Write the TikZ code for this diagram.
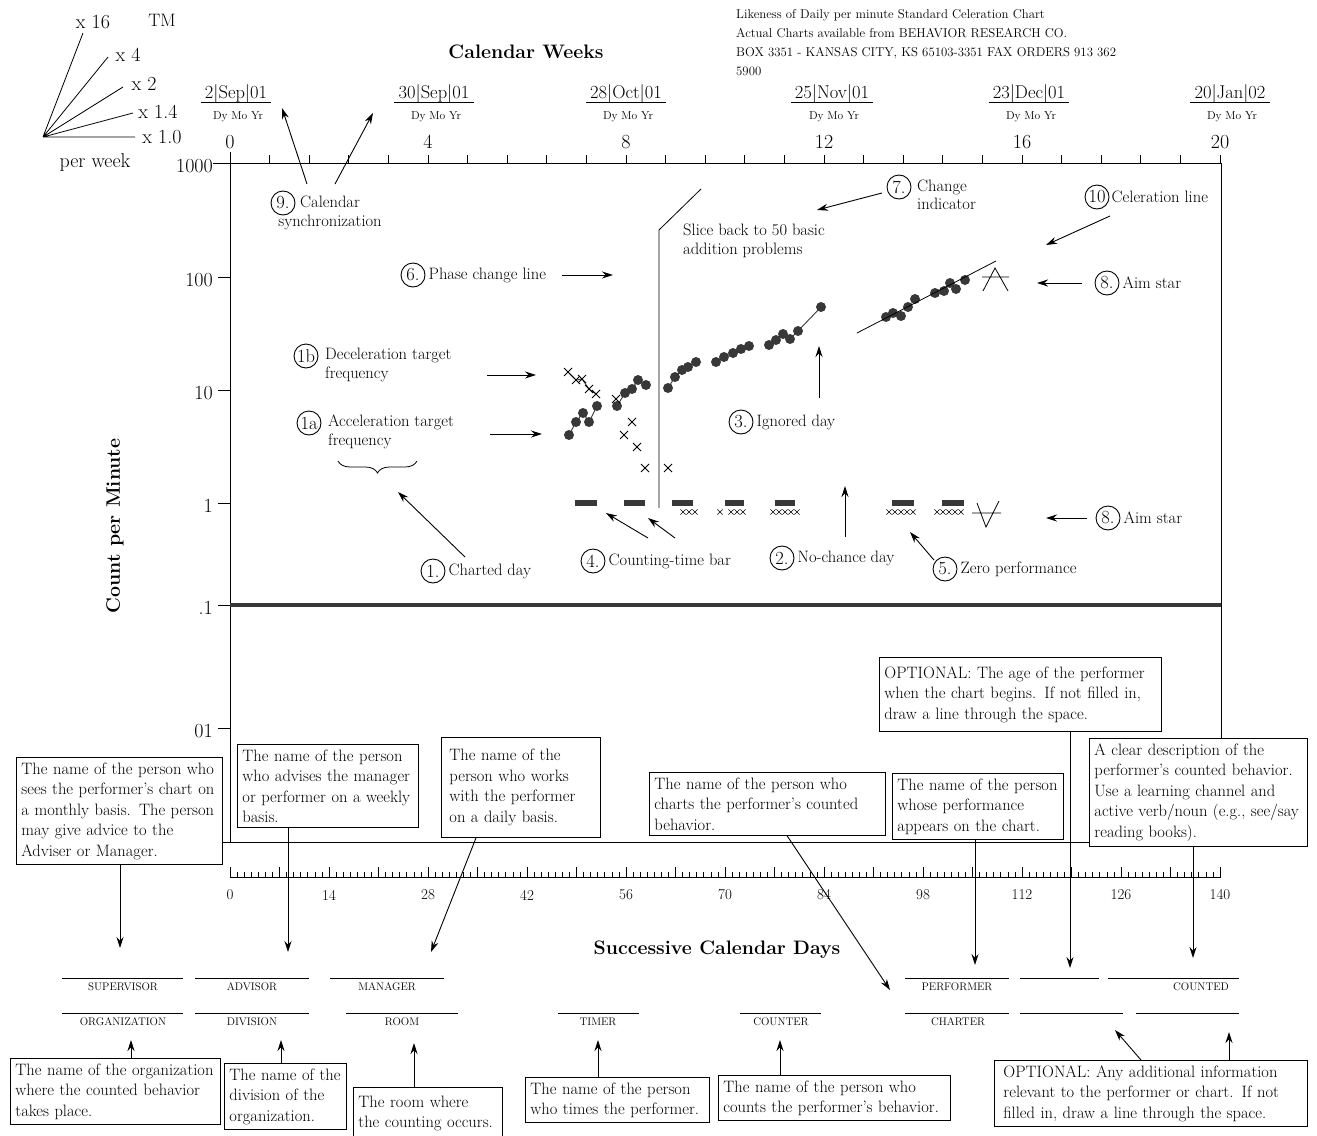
\documentclass[tikz,border=0pt]{standalone}
\usepackage{fontspec}
\usetikzlibrary{arrows.meta,calc,decorations.pathreplacing,positioning}
\definecolor{inkgray}{gray}{0.22}
\newcommand{\fsz}[2]{\fontsize{#1}{#2}\selectfont}
\tikzset{
  xm/.pic={\draw[line width=0.8pt] (-4,-4) -- (4,4) (-4,4) -- (4,-4);},
  sxm/.pic={\draw[line width=0.6pt] (-2.6,-2.6) -- (2.6,2.6) (-2.6,2.6) -- (2.6,-2.6);}
}

\begin{document}
\begin{tikzpicture}[x=1pt,y=-1pt,
    note/.style={font=\fsz{16.5}{18.5}, inner sep=0pt, align=left},
    num/.style={circle, draw, line width=0.9pt, inner sep=0pt, minimum size=24pt, font=\fsz{18.5}{18.5}},
    infobox/.style={draw, line width=0.9pt, fill=white, anchor=north west, align=left, inner xsep=5pt, inner ysep=5pt, font=\fsz{16.5}{20.5}},
    arr/.style={-{Stealth[length=11pt,width=7pt]}, line width=0.9pt},
    rule/.style={line width=0.8pt},
    slotlbl/.style={font=\fsz{11}{11}, inner sep=0pt},
    datelbl/.style={font=\fsz{18.5}{18.5}, inner sep=0pt, anchor=base},
    dmy/.style={font=\fsz{11.5}{11.5}, inner sep=0pt},
    axnum/.style={font=\fsz{20}{20}, inner sep=0pt},
    heading/.style={font=\fsz{19.5}{19.5}\bfseries, inner sep=0pt},
    trail/.style={line width=0.9pt, inkgray}]
  \useasboundingbox (0,0) rectangle (1317,1135);

  % celeration fan
  \coordinate (fan) at (43,137);
  \node[axnum] (f16) at (93,22) {x 16};
  \node[axnum, font=\fsz{18}{18}] (tm) at (162,20) {TM};
  \node[axnum] (f4) at (128,55) {x 4};
  \node[axnum] (f2) at (144,84) {x 2};
  \node[axnum] (f14) at (158,112) {x 1.4};
  \node[axnum] (f10) at (162,137) {x 1.0};
  \node[axnum] (pw) at (95,163) {per week};
  \draw[rule] (fan) -- (83,33) (fan) -- (108,57) (fan) -- (123,87) (fan) -- (133,113) (fan) -- (135,137);

  % calendar header
  \node[heading] (cw) at (526,52) {Calendar Weeks};
  \node[note, anchor=north west, font=\fsz{12.8}{19}] (hdr) at (736,9)
    {Likeness of Daily per minute Standard Celeration Chart\\
     Actual Charts available from BEHAVIOR RESEARCH CO.\\
     BOX 3351 - KANSAS CITY, KS 65103-3351 FAX ORDERS 913 362\\
     5900};
  \foreach \x/\t [count=\i] in {236/2|Sep|01,434/30|Sep|01,626/28|Oct|01,832/25|Nov|01,1029/23|Dec|01,1230/20|Jan|02}{
    \node[datelbl] (dt\i) at (\x,98) {\t};
    \draw[rule] ($(dt\i.base west)+(-4,4)$) -- ($(dt\i.base east)+(4,4)$);
    \node[dmy] (dm\i) at (\x+2,117) {Dy Mo Yr};
  }
  \foreach \w in {0,4,...,20}
    \node[axnum] (wk\w) at ({230+\w*49.5},142) {\w};

  % chart frame
  \draw[rule] (213,163) -- (1221,163);
  \foreach \k in {0,...,25}
    \draw[rule] ({230+\k*39.6},163) -- ++(0,-8);
  \draw[rule] (230,152) -- (230,842);
  \draw[rule] (1221,163) -- (1221,842);
  \draw[rule] (215,842) -- (1221,842);
  \draw[line width=4pt, inkgray] (230,605) -- (1221,605);
  \node[axnum, anchor=east] (yl0) at (213,166) {1000};
  \foreach \y/\t [count=\i] in {277/100,390/10,503/1,605/.1,728/01}{
    \draw[rule] (218,\y) -- (230,\y);
    \node[axnum, anchor=east] (yl\i) at (213,\y+3) {\t};
  }
  \node[heading, rotate=90] (ylab) at (115,526) {Count per Minute};

  % data
  \draw[rule] (659,508) -- (659,230) -- (701,189);
  \draw[trail] plot coordinates {(569,435) (576,422) (583,413) (589,422) (597,406)};
  \draw[trail] plot coordinates {(617,406) (625,393) (632,389) (638,380) (646,385)};
  \draw[trail] plot coordinates {(668,388) (675,377) (682,370) (688,367) (696,362)};
  \draw[trail] plot coordinates {(716,362) (724,357) (733,353) (741,349) (749,346)};
  \draw[trail] plot coordinates {(769,345) (776,340) (783,334) (790,339) (798,331) (821,307)};
  \draw[trail] plot coordinates {(568,372) (576,380) (582,379) (589,389) (596,394)};
  \foreach \x/\y in {569/435,576/422,583/413,589/422,597/406,617/406,625/393,632/389,638/380,646/385,
                     668/388,675/377,682/370,688/367,696/362,716/362,724/357,733/353,741/349,749/346,
                     769/345,776/340,783/334,790/339,798/331,821/307,
                     886/317,893/313,901/316,908/307,915/299,935/293,944/291,950/283,956/289,965/280}
    \fill[inkgray] (\x,\y) circle (5pt);
  \foreach \x/\y in {568/372,576/380,582/379,589/389,596/394,616/399,632/422,624/435,637/447,645/468,668/468}
    \pic at (\x,\y) {xm};
  \draw[rule] (857,333) -- (996,261);
  \draw[rule] (983,291) -- (995,268) -- (1008,291) (982,277) -- (1009,277);
  \draw[rule] (977,503) -- (986,527) -- (999,501) (972,513) -- (1001,513);
  \foreach \a/\b in {575/597,624/645,672/693,725/744,775/795,892/914,942/964}
    \fill[inkgray] (\a,500) rectangle (\b,506);
  \foreach \x in {683,689,695,720,731,737,743,773,779,785,791,797,889,895,901,907,913,937,943,949,955,961}
    \pic at (\x,512) {sxm};

  % numbered notes
  \node[num] (c9) at (283,203) {9.};
  \node[note, align=center] (t9) at (330,213) {Calendar\\synchronization};
  \coordinate (a9s) at (307,184); \coordinate (a9e) at (282,108);
  \coordinate (b9s) at (335,184); \coordinate (b9e) at (373,113);
  \draw[arr] (a9s) -- (a9e);
  \draw[arr] (b9s) -- (b9e);

  \node[num] (c6) at (413,275) {6.};
  \node[note, right=3pt of c6] (t6) {Phase change line};
  \coordinate (a6s) at (562,275); \coordinate (a6e) at (613,275);
  \draw[arr] (a6s) -- (a6e);

  \node[num] (c1b) at (306,356) {1b};
  \node[note, anchor=west] (t1b) at (325,365) {Deceleration target\\frequency};
  \coordinate (a1bs) at (487,375); \coordinate (a1be) at (536,375);
  \draw[arr] (a1bs) -- (a1be);

  \node[num] (c1a) at (309,423) {1a};
  \node[note, anchor=west] (t1a) at (328,432) {Acceleration target\\frequency};
  \coordinate (a1as) at (490,434); \coordinate (a1ae) at (542,434);
  \draw[arr] (a1as) -- (a1ae);
  \draw[rule, decorate, decoration={brace, amplitude=12pt}] (417,461) -- (338,461);

  \node[num] (c1) at (433,571) {1.};
  \node[note, right=3pt of c1] (t1) {Charted day};
  \coordinate (a1s) at (465,557); \coordinate (a1e) at (398,492);
  \draw[arr] (a1s) -- (a1e);

  \node[num] (c4) at (593,561) {4.};
  \node[note, right=3pt of c4] (t4) {Counting-time bar};
  \coordinate (a4s) at (648,538); \coordinate (a4e) at (606,513);
  \coordinate (b4s) at (675,538); \coordinate (b4e) at (648,518);
  \draw[arr] (a4s) -- (a4e);
  \draw[arr] (b4s) -- (b4e);

  \node[num] (c2) at (782,558) {2.};
  \node[note, right=3pt of c2] (t2) {No-chance day};
  \coordinate (a2s) at (845,537); \coordinate (a2e) at (845,486);
  \draw[arr] (a2s) -- (a2e);

  \node[num] (c5) at (945,569) {5.};
  \node[note, right=3pt of c5] (t5) {Zero performance};
  \coordinate (a5s) at (934,560); \coordinate (a5e) at (910,532);
  \draw[arr] (a5s) -- (a5e);

  \node[num] (c3) at (741,422) {3.};
  \node[note, right=3pt of c3] (t3) {Ignored day};
  \coordinate (a3s) at (819,398); \coordinate (a3e) at (819,346);
  \draw[arr] (a3s) -- (a3e);

  \node[num] (c7) at (899,187) {7.};
  \node[note, anchor=west] (t7) at (917,195) {Change\\indicator};
  \coordinate (a7s) at (882,193); \coordinate (a7e) at (817,210);
  \draw[arr] (a7s) -- (a7e);
  \node[note, anchor=west] (slice) at (683,241) {Slice back to 50 basic\\addition problems};

  \node[num] (c10) at (1097,197) {10};
  \node[note, right=2pt of c10] (t10) {Celeration line};
  \coordinate (a10s) at (1110,216); \coordinate (a10e) at (1046,245);
  \draw[arr] (a10s) -- (a10e);

  \node[num] (c8a) at (1107,283) {8.};
  \node[note, right=3pt of c8a] (t8a) {Aim star};
  \coordinate (a8s) at (1082,283); \coordinate (a8e) at (1037,283);
  \draw[arr] (a8s) -- (a8e);

  \node[num] (c8b) at (1108,518) {8.};
  \node[note, right=3pt of c8b] (t8b) {Aim star};
  \coordinate (b8s) at (1087,518); \coordinate (b8e) at (1046,518);
  \draw[arr] (b8s) -- (b8e);

  % successive days ruler
  \draw[rule] (230,877) -- (1221,877);
  \foreach \d in {0,...,140}
    \draw[line width=0.6pt] ({230+\d*7.0714},877) -- ++(0,-5);
  \foreach \d in {0,7,...,140}
    \draw[rule] ({230+\d*7.0714},877) -- ++(0,-10);
  \foreach \d in {0,14,...,140}
    \node[font=\fsz{15}{15}, inner sep=0pt] (dn\d) at ({230+\d*7.0714},895) {\d};
  \node[heading] (scd) at (717,950) {Successive Calendar Days};

  % upper boxes
  \node[infobox, text width=196pt] (bxA) at (16,757) {The name of the person who\\sees the performer's chart on\\a monthly basis. The person\\may give advice to the\\Adviser or Manager.};
  \node[infobox, text width=171pt] (bxB) at (237,744) {The name of the person\\who advises the manager\\or performer on a weekly\\basis.};
  \node[infobox, text width=143pt, inner xsep=8pt, minimum height=100pt] (bxC) at (441,737) {The name of the\\person who works\\with the performer\\on a daily basis.};
  \node[infobox, text width=226pt] (bxD) at (649,772) {The name of the person who\\charts the performer's counted\\behavior.};
  \node[infobox, text width=161pt] (bxE) at (892,773) {The name of the person\\whose performance\\appears on the chart.};
  \node[infobox, text width=272pt, minimum height=74pt] (bxF) at (879,657) {OPTIONAL: The age of the performer\\when the chart begins. If not filled in,\\draw a line through the space.};
  \node[infobox, text width=208pt] (bxG) at (1089,738) {A clear description of the\\performer's counted behavior.\\Use a learning channel and\\active verb/noun (e.g., see/say\\reading books).};

  \coordinate (tSup) at (120,948);
  \coordinate (tAdv) at (288,952);
  \coordinate (sMan) at (476,0); \coordinate (tMan) at (431,952);
  \coordinate (sChr) at (787,0); \coordinate (tChr) at (890,990);
  \coordinate (tPer) at (975,965);
  \coordinate (tAge) at (1070,968);
  \coordinate (tCnt) at (1193,958);
  \draw[arr] (bxA.south -| tSup) -- (tSup);
  \draw[arr] (bxB.south -| tAdv) -- (tAdv);
  \draw[arr] (bxC.south -| sMan) -- (tMan);
  \draw[arr] (bxD.south -| sChr) -- (tChr);
  \draw[arr] (bxE.south -| tPer) -- (tPer);
  \draw[arr] (bxF.south -| tAge) -- (tAge);
  \draw[arr] (bxG.south -| tCnt) -- (tCnt);

  % form slots
  \foreach \a/\b in {62/183,195/309,330/444,905/1009,1020/1099,1108/1239}
    \draw[line width=0.7pt] (\a,978) -- (\b,978);
  \foreach \c/\t [count=\i] in {123/SUPERVISOR,252/ADVISOR,387/MANAGER,957/PERFORMER,1201/COUNTED}
    \node[slotlbl] (ra\i) at (\c,987) {\t};
  \foreach \a/\b in {62/183,195/309,346/458,558/639,740/821,905/1009,1020/1123,1136/1239}
    \draw[line width=0.7pt] (\a,1013) -- (\b,1013);
  \foreach \c/\t [count=\i] in {123/ORGANIZATION,252/DIVISION,402/ROOM,598/TIMER,781/COUNTER,958/CHARTER}
    \node[slotlbl] (rb\i) at (\c,1022) {\t};

  % lower boxes
  \node[infobox, text width=200pt] (bxH) at (10,1058) {The name of the organization\\where the counted behavior\\takes place.};
  \node[infobox, text width=112pt] (bxI) at (224,1063) {The name of the\\division of the\\organization.};
  \node[infobox, text width=139pt, minimum height=52pt] (bxJ) at (353,1087) {The room where\\the counting occurs.};
  \node[infobox, text width=174pt] (bxK) at (525,1077) {The name of the person\\who times the performer.};
  \node[infobox, text width=222pt] (bxL) at (718,1075) {The name of the person who\\counts the performer's behavior.};
  \node[infobox, text width=295pt, inner xsep=9pt] (bxM) at (994,1060) {OPTIONAL: Any additional information\\relevant to the performer or chart. If not\\filled in, draw a line through the space.};

  \coordinate (tOrg) at (131,1040);
  \coordinate (tDiv) at (281,1040);
  \coordinate (tRoom) at (414,1043);
  \coordinate (tTim) at (598,1040);
  \coordinate (tCtr) at (780,1040);
  \coordinate (sOpt) at (1141,0); \coordinate (tOpt) at (1115,1030);
  \coordinate (tOpt2) at (1229,1032);
  \draw[arr] (bxH.north -| tOrg) -- (tOrg);
  \draw[arr] (bxI.north -| tDiv) -- (tDiv);
  \draw[arr] (bxJ.north -| tRoom) -- (tRoom);
  \draw[arr] (bxK.north -| tTim) -- (tTim);
  \draw[arr] (bxL.north -| tCtr) -- (tCtr);
  \draw[arr] (bxM.north -| sOpt) -- (tOpt);
  \draw[arr] (bxM.north -| tOpt2) -- (tOpt2);
\end{tikzpicture}
\end{document}
